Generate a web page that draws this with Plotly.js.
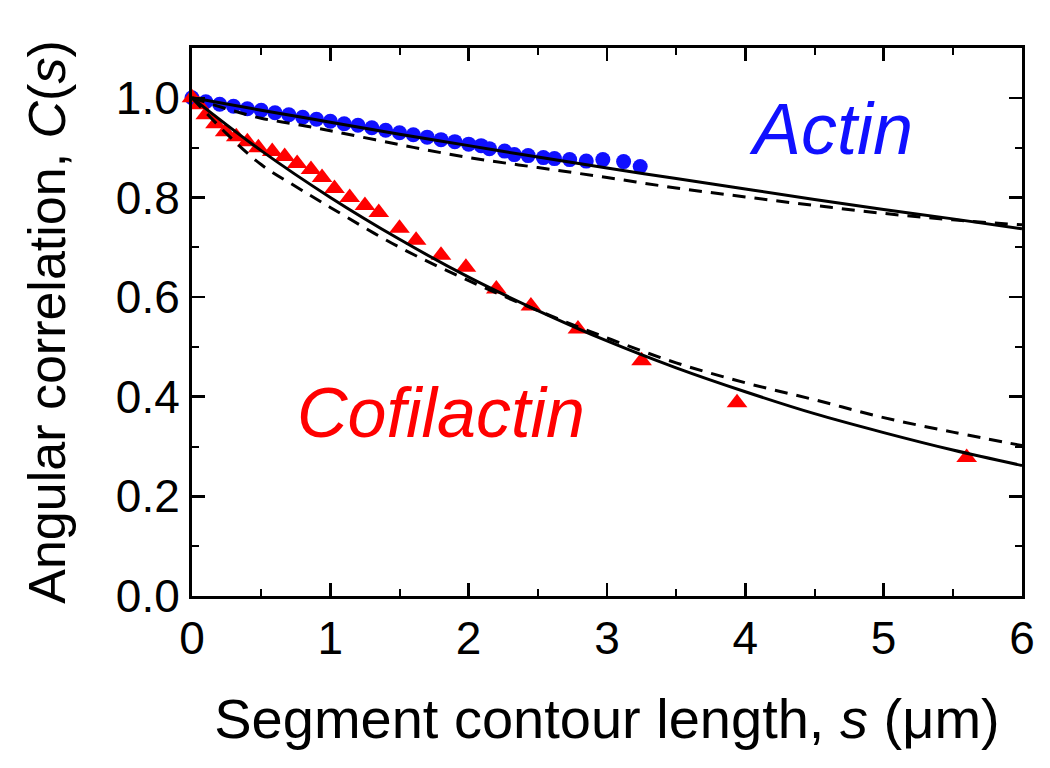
<!DOCTYPE html>
<html>
<head>
<meta charset="utf-8">
<script src="https://cdn.plot.ly/plotly-3.0.1.min.js"></script>
<style>html,body{margin:0;padding:0;background:#fff;}#chart{width:1050px;height:768px;}</style>
</head>
<body>
<div id="chart"></div>
<script>
// Actin data (blue circles)
const actinS = [0, 0.1, 0.2, 0.3, 0.4, 0.5, 0.6, 0.7, 0.8, 0.9, 1.0, 1.1, 1.2, 1.3, 1.4, 1.5, 1.6, 1.7, 1.8, 1.9, 2.0, 2.09, 2.15, 2.26, 2.33, 2.43, 2.54, 2.62, 2.73, 2.85, 2.97, 3.12, 3.24];
const actinC = [1.0, 0.992, 0.987, 0.983, 0.978, 0.975, 0.970, 0.966, 0.961, 0.957, 0.953, 0.948, 0.945, 0.940, 0.935, 0.930, 0.926, 0.921, 0.916, 0.912, 0.907, 0.904, 0.898, 0.893, 0.886, 0.884, 0.880, 0.878, 0.876, 0.873, 0.876, 0.872, 0.862];

// Cofilactin data (red triangles)
const cofS = [0, 0.05, 0.1, 0.17, 0.24, 0.32, 0.4, 0.48, 0.58, 0.67, 0.76, 0.86, 0.94, 1.03, 1.14, 1.25, 1.35, 1.5, 1.62, 1.8, 1.98, 2.2, 2.45, 2.79, 3.25, 3.94, 5.6];
const cofC = [1.0, 0.986, 0.966, 0.948, 0.932, 0.922, 0.912, 0.900, 0.892, 0.882, 0.868, 0.856, 0.840, 0.818, 0.800, 0.784, 0.770, 0.738, 0.714, 0.684, 0.660, 0.616, 0.582, 0.536, 0.472, 0.388, 0.278];

// Fit curves
const fitS = [0, 0.5, 1, 1.5, 2, 2.5, 3, 3.5, 4, 4.5, 5, 5.5, 6];
const actinSolid = [1.0, 0.975, 0.951, 0.927, 0.904, 0.881, 0.859, 0.838, 0.817, 0.796, 0.776, 0.757, 0.737];
const cofSolid = [1.0, 0.894, 0.800, 0.716, 0.640, 0.573, 0.512, 0.458, 0.410, 0.366, 0.328, 0.293, 0.262];

const dashS = [0, 0.25, 0.5, 0.75, 1, 1.5, 2, 2.5, 3, 3.5, 4, 4.5, 5, 5.5, 6];
const actinDash = [1.0, 0.978, 0.959, 0.947, 0.934, 0.906, 0.880, 0.860, 0.840, 0.819, 0.801, 0.784, 0.768, 0.755, 0.745];
const cofDash = [1.0, 0.928, 0.866, 0.822, 0.780, 0.700, 0.633, 0.573, 0.518, 0.468, 0.428, 0.394, 0.358, 0.329, 0.302];

const xTicks = [0, 1, 2, 3, 4, 5, 6];
const yTicks = [0.0, 0.2, 0.4, 0.6, 0.8, 1.0];

const FONT = 'Liberation Sans, Arial, sans-serif';

const traces = [
  {x: actinS, y: actinC, mode: 'markers', type: 'scatter', cliponaxis: false,
   marker: {symbol: 'circle', size: 15, color: '#1010ff'}},
  {x: cofS, y: cofC, mode: 'markers', type: 'scatter', cliponaxis: false,
   marker: {symbol: 'triangle-up', size: 18, color: '#ff0000'}},
  {x: fitS, y: actinSolid, mode: 'lines', type: 'scatter',
   line: {color: '#000', width: 3, shape: 'spline'}},
  {x: dashS, y: actinDash, mode: 'lines', type: 'scatter',
   line: {color: '#000', width: 3, dash: '13px,9px', shape: 'spline'}},
  {x: fitS, y: cofSolid, mode: 'lines', type: 'scatter',
   line: {color: '#000', width: 3, shape: 'spline'}},
  {x: dashS, y: cofDash, mode: 'lines', type: 'scatter',
   line: {color: '#000', width: 3, dash: '13px,9px', shape: 'spline'}}
];

const axisCommon = {
  showgrid: false, zeroline: false, showline: true, linecolor: '#000', linewidth: 3,
  mirror: 'allticks', ticks: 'inside', ticklen: 13, tickwidth: 2.5, tickcolor: '#000',
  tickfont: {family: FONT, size: 46, color: '#000'}
};

const layout = {
  width: 1050, height: 768,
  margin: {l: 192, r: 28, t: 48, b: 172},
  paper_bgcolor: '#fff', plot_bgcolor: '#fff',
  showlegend: false,
  font: {family: FONT, color: '#000'},
  xaxis: Object.assign({}, axisCommon, {
    range: [0, 6], tickvals: xTicks, ticktext: xTicks.map(String),
    minor: {dtick: 0.5, tick0: 0, ticks: 'inside', ticklen: 7, tickwidth: 2, tickcolor: '#000'},
    title: {text: 'Segment contour length, <i>s</i> (μm)', font: {family: FONT, size: 56, color: '#000'}, standoff: 36}
  }),
  yaxis: Object.assign({}, axisCommon, {
    range: [0, 1.1], tickvals: yTicks, ticktext: yTicks.map(v => v.toFixed(1)),
    minor: {dtick: 0.1, tick0: 0, ticks: 'inside', ticklen: 7, tickwidth: 2, tickcolor: '#000'},
    title: {text: 'Angular correlation, <i>C</i>(<i>s</i>)', font: {family: FONT, size: 52, color: '#000'}, standoff: 34}
  }),
  annotations: [
    {x: 4.62, y: 0.938, xref: 'x', yref: 'y', text: '<i>Actin</i>', showarrow: false,
     font: {family: FONT, size: 72, color: '#1010ff'}},
    {x: 1.80, y: 0.368, xref: 'x', yref: 'y', text: '<i>Cofilactin</i>', showarrow: false,
     font: {family: FONT, size: 70, color: '#ff0000'}}
  ]
};

Plotly.newPlot('chart', traces, layout, {displayModeBar: false, staticPlot: true});
</script>
</body>
</html>
